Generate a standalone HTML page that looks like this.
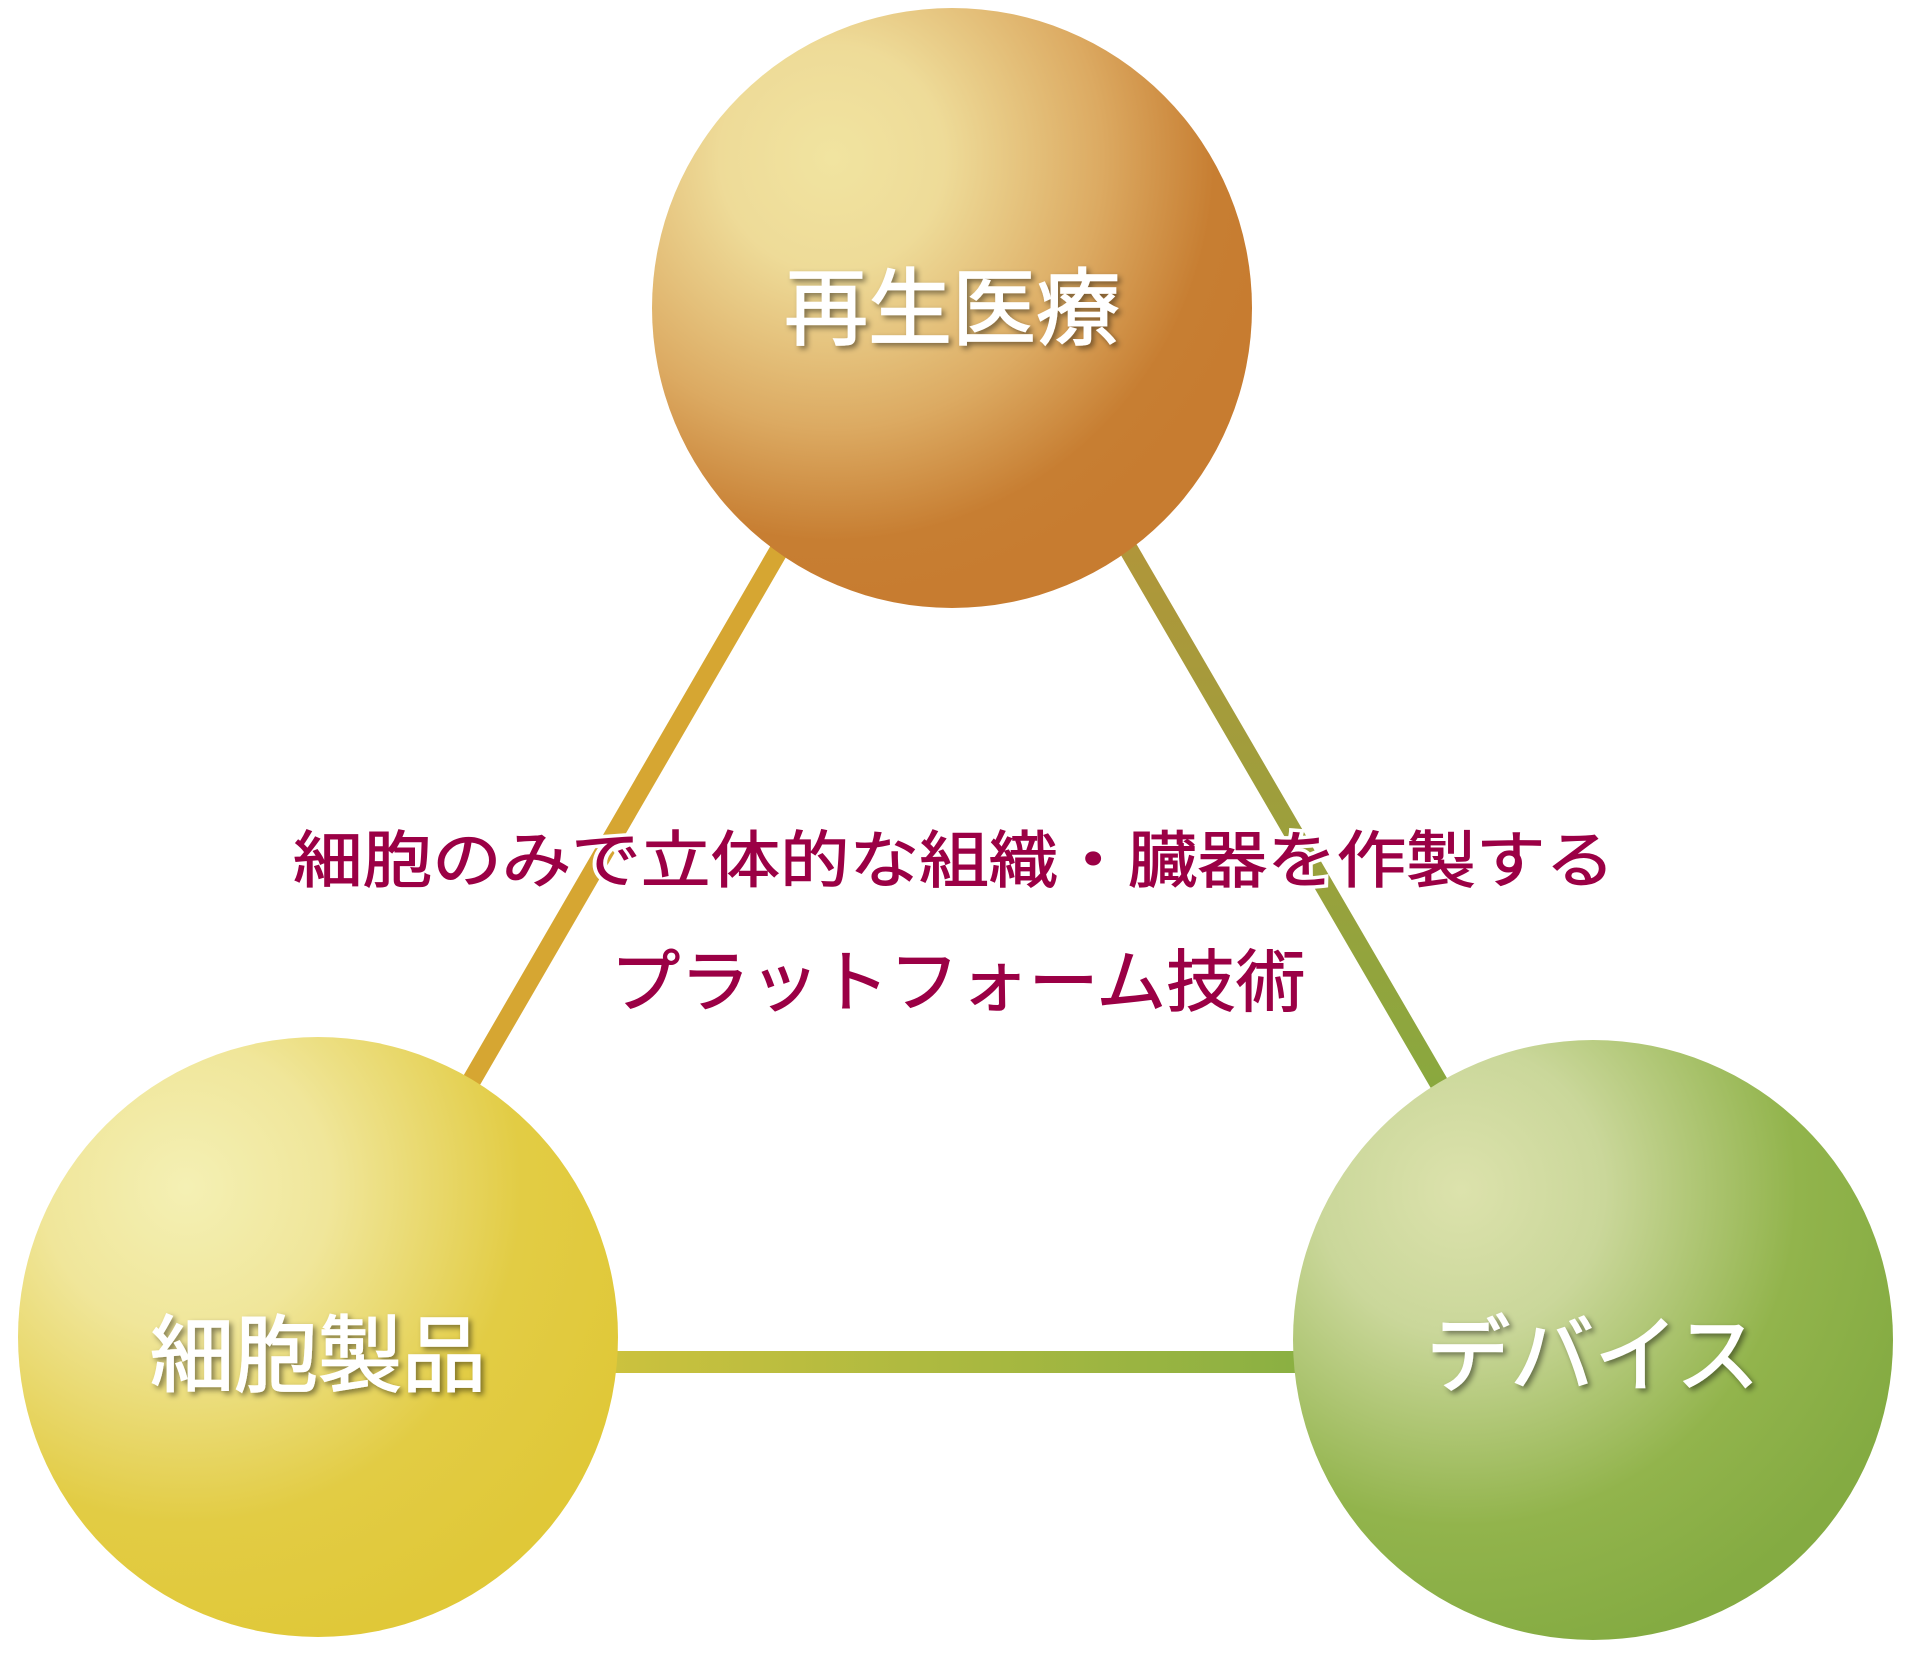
<!DOCTYPE html><html><head><meta charset="utf-8"><style>
body{margin:0;width:1911px;height:1657px;background:#fff;overflow:hidden}
svg{display:block}
text{font-family:"Liberation Sans","Noto Sans CJK JP",sans-serif}
</style></head><body>
<svg width="1911" height="1657" viewBox="0 0 1911 1657">
<defs>
<radialGradient id="gt" cx="0.3" cy="0.25" r="0.75"><stop offset="0" stop-color="#f1e4a0"/><stop offset="0.25" stop-color="#eedb98"/><stop offset="0.6" stop-color="#dcaa62"/><stop offset="0.85" stop-color="#c77e32"/><stop offset="1" stop-color="#c77c30"/></radialGradient>
<radialGradient id="gl" cx="0.28" cy="0.25" r="0.8"><stop offset="0" stop-color="#f4f0b4"/><stop offset="0.3" stop-color="#f0e69a"/><stop offset="0.7" stop-color="#e2cc44"/><stop offset="1" stop-color="#e0c838"/></radialGradient>
<radialGradient id="gr" cx="0.28" cy="0.25" r="0.8"><stop offset="0" stop-color="#dce2ac"/><stop offset="0.3" stop-color="#cad79a"/><stop offset="0.7" stop-color="#92b44c"/><stop offset="1" stop-color="#84ab42"/></radialGradient>
<linearGradient id="lb" x1="0" x2="1"><stop offset="0" stop-color="#cdc23e"/><stop offset="1" stop-color="#8ab042"/></linearGradient>
<linearGradient id="lr" x1="0" y1="0" x2="0" y2="1"><stop offset="0" stop-color="#b0963a"/><stop offset="1" stop-color="#8aa83e"/></linearGradient>
<filter id="sh"><feDropShadow dx="3" dy="3" stdDeviation="3" flood-color="#000" flood-opacity="0.45"/></filter>
</defs>
<line x1="782" y1="545" x2="469" y2="1085" stroke="#d6a632" stroke-width="19"/>
<line x1="1126" y1="545" x2="1440" y2="1085" stroke="url(#lr)" stroke-width="19"/>
<rect x="600" y="1351" width="700" height="22" fill="url(#lb)"/>
<circle cx="952" cy="308" r="300" fill="url(#gt)"/>
<circle cx="318" cy="1337" r="300" fill="url(#gl)"/>
<circle cx="1593" cy="1340" r="300" fill="url(#gr)"/>
<g fill="#fff" font-size="84" text-anchor="middle" filter="url(#sh)" stroke="#fff" stroke-width="1.5">
<text x="952" y="338">再生医療</text>
<text x="318" y="1385">細胞製品</text>
<text x="1593" y="1385">デバイス</text>
</g>
<g fill="#9b0045" text-anchor="middle" stroke="#fff" stroke-width="8" paint-order="stroke">
<text x="954" y="882" font-size="62" textLength="1322" lengthAdjust="spacingAndGlyphs">細胞のみで立体的な組織・臓器を作製する</text>
<text x="958" y="1006" font-size="68" textLength="695" lengthAdjust="spacingAndGlyphs">プラットフォーム技術</text>
</g>
<g fill="#9b0045" text-anchor="middle" stroke="#9b0045" stroke-width="1">
<text x="954" y="882" font-size="62" textLength="1322" lengthAdjust="spacingAndGlyphs">細胞のみで立体的な組織・臓器を作製する</text>
<text x="958" y="1006" font-size="68" textLength="695" lengthAdjust="spacingAndGlyphs">プラットフォーム技術</text>
</g>
</svg>
</body></html>
